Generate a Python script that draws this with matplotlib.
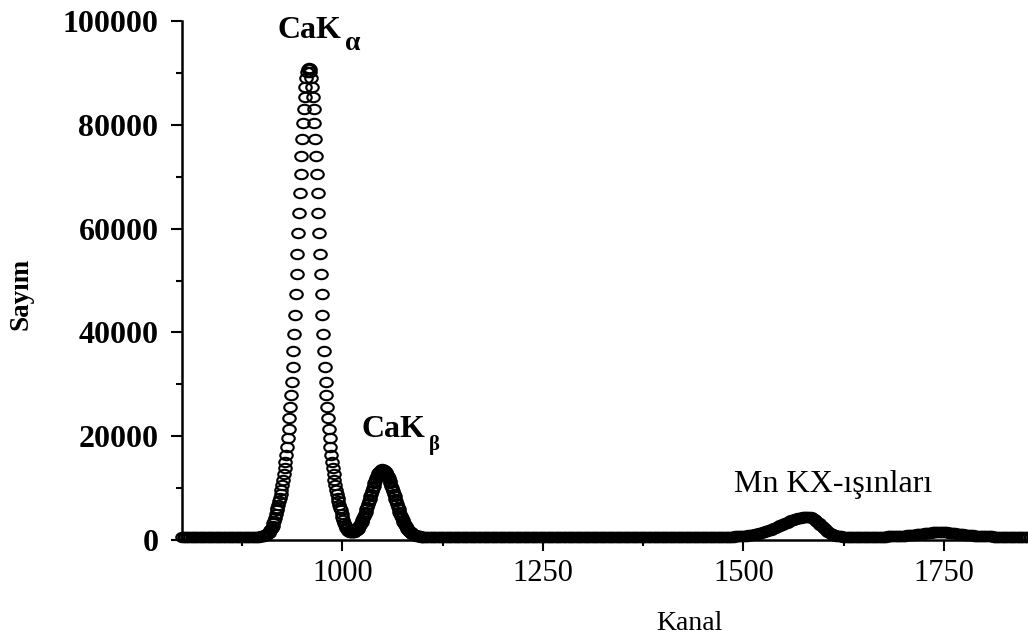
import numpy as np
import matplotlib
matplotlib.use("Agg")
import matplotlib.pyplot as plt
from matplotlib.path import Path
from matplotlib.transforms import Affine2D
from matplotlib.ticker import MultipleLocator, FormatStrFormatter

plt.rcParams['font.family'] = ['Liberation Serif', 'DejaVu Serif']

# Spektrum: kanal numaralari ve sayimlar
kanal_sol = np.arange(800, 900, 2)
sayim_sol = [610, 590, 620, 600, 580, 610, 630, 600, 590, 620,
             600, 610, 580, 600, 620, 590, 610, 600, 630, 610,
             590, 600, 620, 610, 580, 600, 610, 630, 600, 590,
             620, 610, 600, 590, 610, 620, 600, 630, 610, 600,
             620, 610, 630, 620, 630, 640, 650, 660, 670, 690]

# CaKa + CaKb bolgesi, her kanal
kanal_ca = np.arange(900, 1100)
sayim_ca = [740, 780, 830, 890, 960, 1050, 1150, 1280, 1420, 1600,
            1850, 2100, 2400, 2750, 3200, 3700, 4300, 4950, 5730, 6260,
            6830, 7460, 8150, 8900, 9720, 10610, 11590, 12650, 13810, 15090,
            16470, 17990, 19650, 21450, 23430, 25580, 27940, 30500, 33310, 36370,
            39720, 43380, 47370, 51260, 55190, 59130, 63030, 66830, 70510, 74010,
            77290, 80310, 83010, 85380, 87360, 88930, 90080, 90770, 91000, 90770,
            90080, 88930, 87360, 85380, 83010, 80310, 77290, 74010, 70510, 66830,
            63030, 59130, 55190, 51260, 47370, 43380, 39720, 36370, 33310, 30500,
            27940, 25580, 23430, 21450, 19650, 17990, 16470, 15090, 13810, 12650,
            11590, 10610, 9720, 8900, 8150, 7460, 6830, 6260, 5760, 4990,
            4350, 3760, 3280, 2845, 2515, 2245, 2025, 1810, 1680, 1590,
            1520, 1490, 1485, 1510, 1560, 1630, 1740, 1860, 2020, 2200,
            2400, 2640, 2900, 3180, 3490, 3840, 4210, 4610, 5030, 5480,
            5940, 6430, 6930, 7440, 7960, 8485, 8930, 9450, 9970, 10470,
            10960, 11420, 11850, 12240, 12590, 12890, 13140, 13340, 13485, 13570,
            13600, 13570, 13485, 13340, 13140, 12890, 12590, 12240, 11850, 11420,
            10960, 10470, 9970, 9450, 8930, 8485, 7960, 7440, 6930, 6430,
            5940, 5480, 5030, 4610, 4210, 3840, 3490, 3180, 2900, 2620,
            2360, 2140, 1940, 1760, 1600, 1450, 1330, 1220, 1125, 1040,
            970, 910, 860, 810, 775, 745, 715, 690, 670, 650]

kanal_orta = np.arange(1100, 1480, 2)
sayim_orta = [640, 625, 615, 608, 600, 596, 610, 590, 605, 598,
              612, 585, 600, 620, 594, 606, 588, 615, 600, 592,
              604, 618, 590, 600, 612, 586, 598, 620, 603, 590,
              608, 596, 614, 588, 600, 622, 594, 606, 590, 610,
              598, 616, 592, 604, 586, 612, 600, 594, 618, 602,
              590, 606, 614, 596, 584, 608, 620, 598, 592, 610,
              602, 588, 616, 600, 594, 612, 590, 606, 618, 596,
              604, 592, 610, 586, 600, 614, 598, 590, 608, 620,
              594, 602, 588, 612, 600, 596, 616, 590, 604, 610,
              598, 586, 606, 618, 594, 602, 590, 612, 600, 608,
              596, 614, 588, 604, 620, 592, 600, 610, 586, 602,
              616, 598, 594, 608, 590, 612, 604, 596, 618, 600,
              588, 606, 614, 592, 602, 610, 596, 620, 594, 604,
              612, 590, 600, 616, 598, 586, 608, 602, 614, 594,
              600, 618, 592, 606, 610, 596, 588, 612, 604, 598,
              614, 600, 594, 608, 620, 602, 590, 606, 616, 598,
              604, 612, 596, 600, 618, 608, 594, 610, 602, 620,
              606, 598, 614, 610, 600, 618, 612, 604, 620, 614,
              610, 622, 616, 608, 626, 618, 630, 624, 632, 628]

# Mn KX-isinlari
kanal_mn = np.arange(1480, 1632, 2)
sayim_mn = [636, 643, 650, 661, 673, 686, 700, 719, 740, 764,
            790, 821, 854, 893, 935, 983, 1035, 1094, 1156, 1226,
            1301, 1384, 1471, 1566, 1665, 1773, 1885, 2004, 2127, 2256,
            2389, 2525, 2664, 2805, 2947, 3089, 3230, 3369, 3505, 3636,
            3761, 3879, 3989, 4089, 4181, 4260, 4329, 4383, 4426, 4455,
            4470, 4460, 4393, 4260, 4071, 3830, 3557, 3260, 2947, 2636,
            2335, 2055, 1794, 1565, 1366, 1195, 1057, 943, 854, 786,
            732, 694, 663, 643, 629, 620]

kanal_sag = np.arange(1632, 1856, 2)
sayim_sag = [618, 626, 614, 632, 622, 640, 628, 636, 646, 630,
             642, 650, 638, 646, 656, 642, 652, 660, 648, 656,
             664, 654, 668, 672,
             679, 686, 693, 702, 713, 726, 740, 756, 775, 795,
             818, 844, 871, 902, 934, 969, 1006, 1044, 1084, 1124,
             1166, 1207, 1247, 1287, 1324, 1360, 1393, 1422, 1447, 1467,
             1483, 1494, 1500, 1500, 1494, 1483, 1467, 1447, 1422, 1393,
             1360, 1324, 1287, 1247, 1207, 1166, 1124, 1084, 1044, 1006,
             969, 934, 902, 871, 844, 818, 795, 775, 756, 740,
             726, 713, 702, 693, 686, 679,
             672, 668, 660, 664, 652, 658, 646, 654, 640, 650,
             644, 636, 648, 640, 632, 644, 638, 630, 642, 636,
             628, 640]

kanal = np.concatenate([kanal_sol, kanal_ca, kanal_orta, kanal_mn, kanal_sag])
sayim = np.concatenate([sayim_sol, sayim_ca, sayim_orta, sayim_mn, sayim_sag])

# figure
fig = plt.figure(figsize=(10.28, 6.43), dpi=100)
ax = fig.add_axes([182/1028, 103/643, 846/1028, 519/643])

# scanned circles are a bit flattened
daire = Path.unit_circle().transformed(Affine2D().scale(1.0, 0.75))
ax.plot(kanal, sayim, linestyle='none', marker=daire, markersize=9,
        markerfacecolor='none', markeredgecolor='black', markeredgewidth=1.5,
        clip_on=False)

ax.set_xlim(800, 1855)
ax.set_ylim(0, 100000)

ax.spines['top'].set_visible(False)
ax.spines['right'].set_visible(False)
ax.spines['left'].set_linewidth(1.8)
ax.spines['bottom'].set_linewidth(1.8)

ax.xaxis.set_major_locator(MultipleLocator(250))
ax.xaxis.set_minor_locator(MultipleLocator(125))
ax.yaxis.set_major_locator(MultipleLocator(20000))
ax.yaxis.set_minor_locator(MultipleLocator(10000))
ax.yaxis.set_major_formatter(FormatStrFormatter('%d'))

ax.tick_params(axis='both', which='major', direction='out', length=8, width=1.5)
ax.tick_params(axis='both', which='minor', direction='out', length=4, width=1.5)
ax.tick_params(axis='x', which='major', labelsize=22, pad=6)
ax.tick_params(axis='y', which='major', labelsize=23, pad=9)
for lab in ax.get_yticklabels():
    lab.set_fontweight('bold')

ax.set_xlabel('Kanal', fontsize=20)
ax.xaxis.set_label_coords((689-182)/846, -0.137)
ax.set_ylabel('Sayım', fontsize=19.5, fontweight='bold', va='center')
ax.yaxis.set_label_coords((21-182)/846, 0.474)

# peak labels
t1 = ax.text(919.6, 96725, 'CaK', fontsize=23, fontweight='bold', ha='left', va='baseline')
ax.annotate('α', xy=(1, 0), xycoords=t1, xytext=(2, -8), textcoords='offset points',
            fontsize=20, fontweight='bold', ha='left', va='bottom')
t2 = ax.text(1024.2, 19846, 'CaK', fontsize=23, fontweight='bold', ha='left', va='baseline')
ax.annotate('β', xy=(1, 0), xycoords=t2, xytext=(2, -8), textcoords='offset points',
            fontsize=15, fontweight='bold', ha='left', va='bottom')
ax.text(1488.9, 9249, 'Mn KX-ışınları', fontsize=23, ha='left', va='baseline')

plt.savefig('out.png', dpi=100)
